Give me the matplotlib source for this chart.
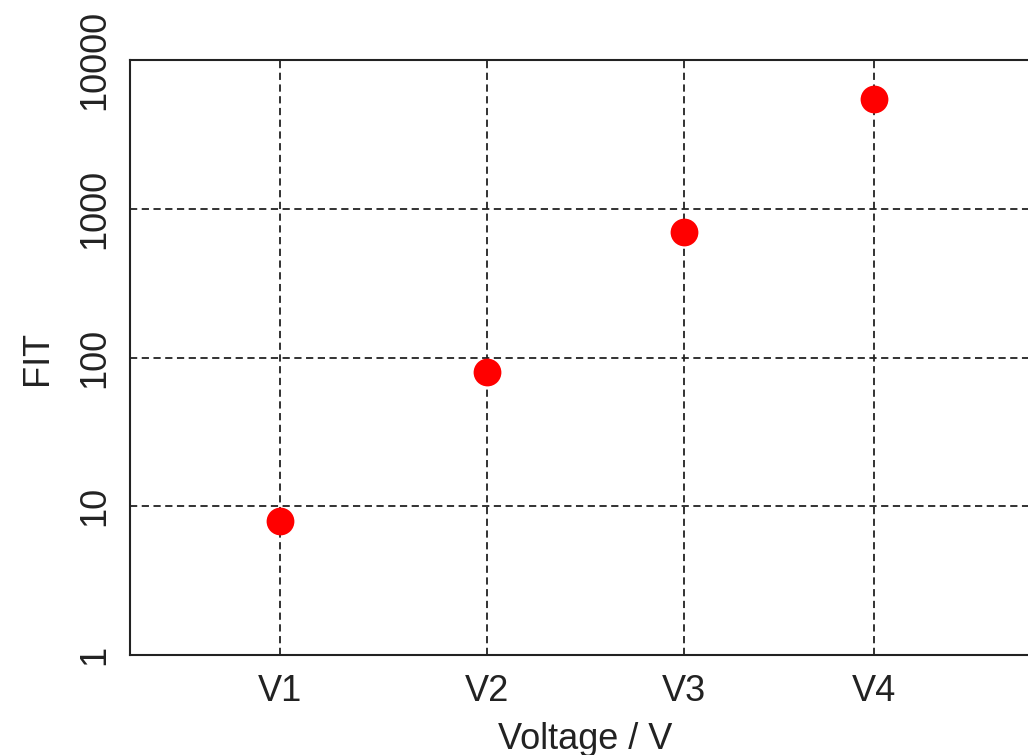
import matplotlib.pyplot as plt
from matplotlib.ticker import FixedLocator, FixedFormatter, NullLocator

plt.rcParams['font.family'] = ['Liberation Sans', 'DejaVu Sans']

# dados
voltages = ['V1', 'V2', 'V3', 'V4']
x_pos = [1.0, 2.0, 2.947, 3.86]
fit = [8, 80, 700, 5500]
y_ticks = [1, 10, 100, 1000, 10000]
y_labels = ['1', '10', '100', '1000', '10000']

fig = plt.figure(figsize=(10.28, 7.55), dpi=100)
ax = fig.add_axes([130 / 1028, 100 / 755, 0.885, 595 / 755])

ax.set_yscale('log')
ax.set_ylim(1, 10000)
ax.set_xlim(0.28, 4.66)

ax.plot(x_pos, fit, 'o', color='#ff0000', markersize=20, markeredgewidth=0, zorder=3)

ax.xaxis.set_major_locator(FixedLocator(x_pos))
ax.xaxis.set_major_formatter(FixedFormatter(voltages))
ax.xaxis.set_minor_locator(NullLocator())
ax.yaxis.set_major_locator(FixedLocator(y_ticks))
ax.yaxis.set_major_formatter(FixedFormatter(y_labels))
ax.yaxis.set_minor_locator(NullLocator())

ax.tick_params(axis='both', length=0, labelsize=26, colors='#222222')
ax.tick_params(axis='x', pad=14)
ax.tick_params(axis='y', pad=13)
for lbl in ax.get_yticklabels():
    lbl.set_rotation(90)
    lbl.set_va('center')

ax.grid(True, which='major', color='#222222', linestyle=(0, (4, 2.5)), linewidth=1.3)

for s in ['left', 'bottom', 'top']:
    ax.spines[s].set_color('#222222')
    ax.spines[s].set_linewidth(1.5)
ax.spines['right'].set_visible(False)

ax.set_xlabel('Voltage / V', fontsize=26, color='#222222', labelpad=9)
ax.set_ylabel('FIT', fontsize=26, color='#222222', labelpad=16)

fig.savefig('out.png', dpi=100)
plt.close()
